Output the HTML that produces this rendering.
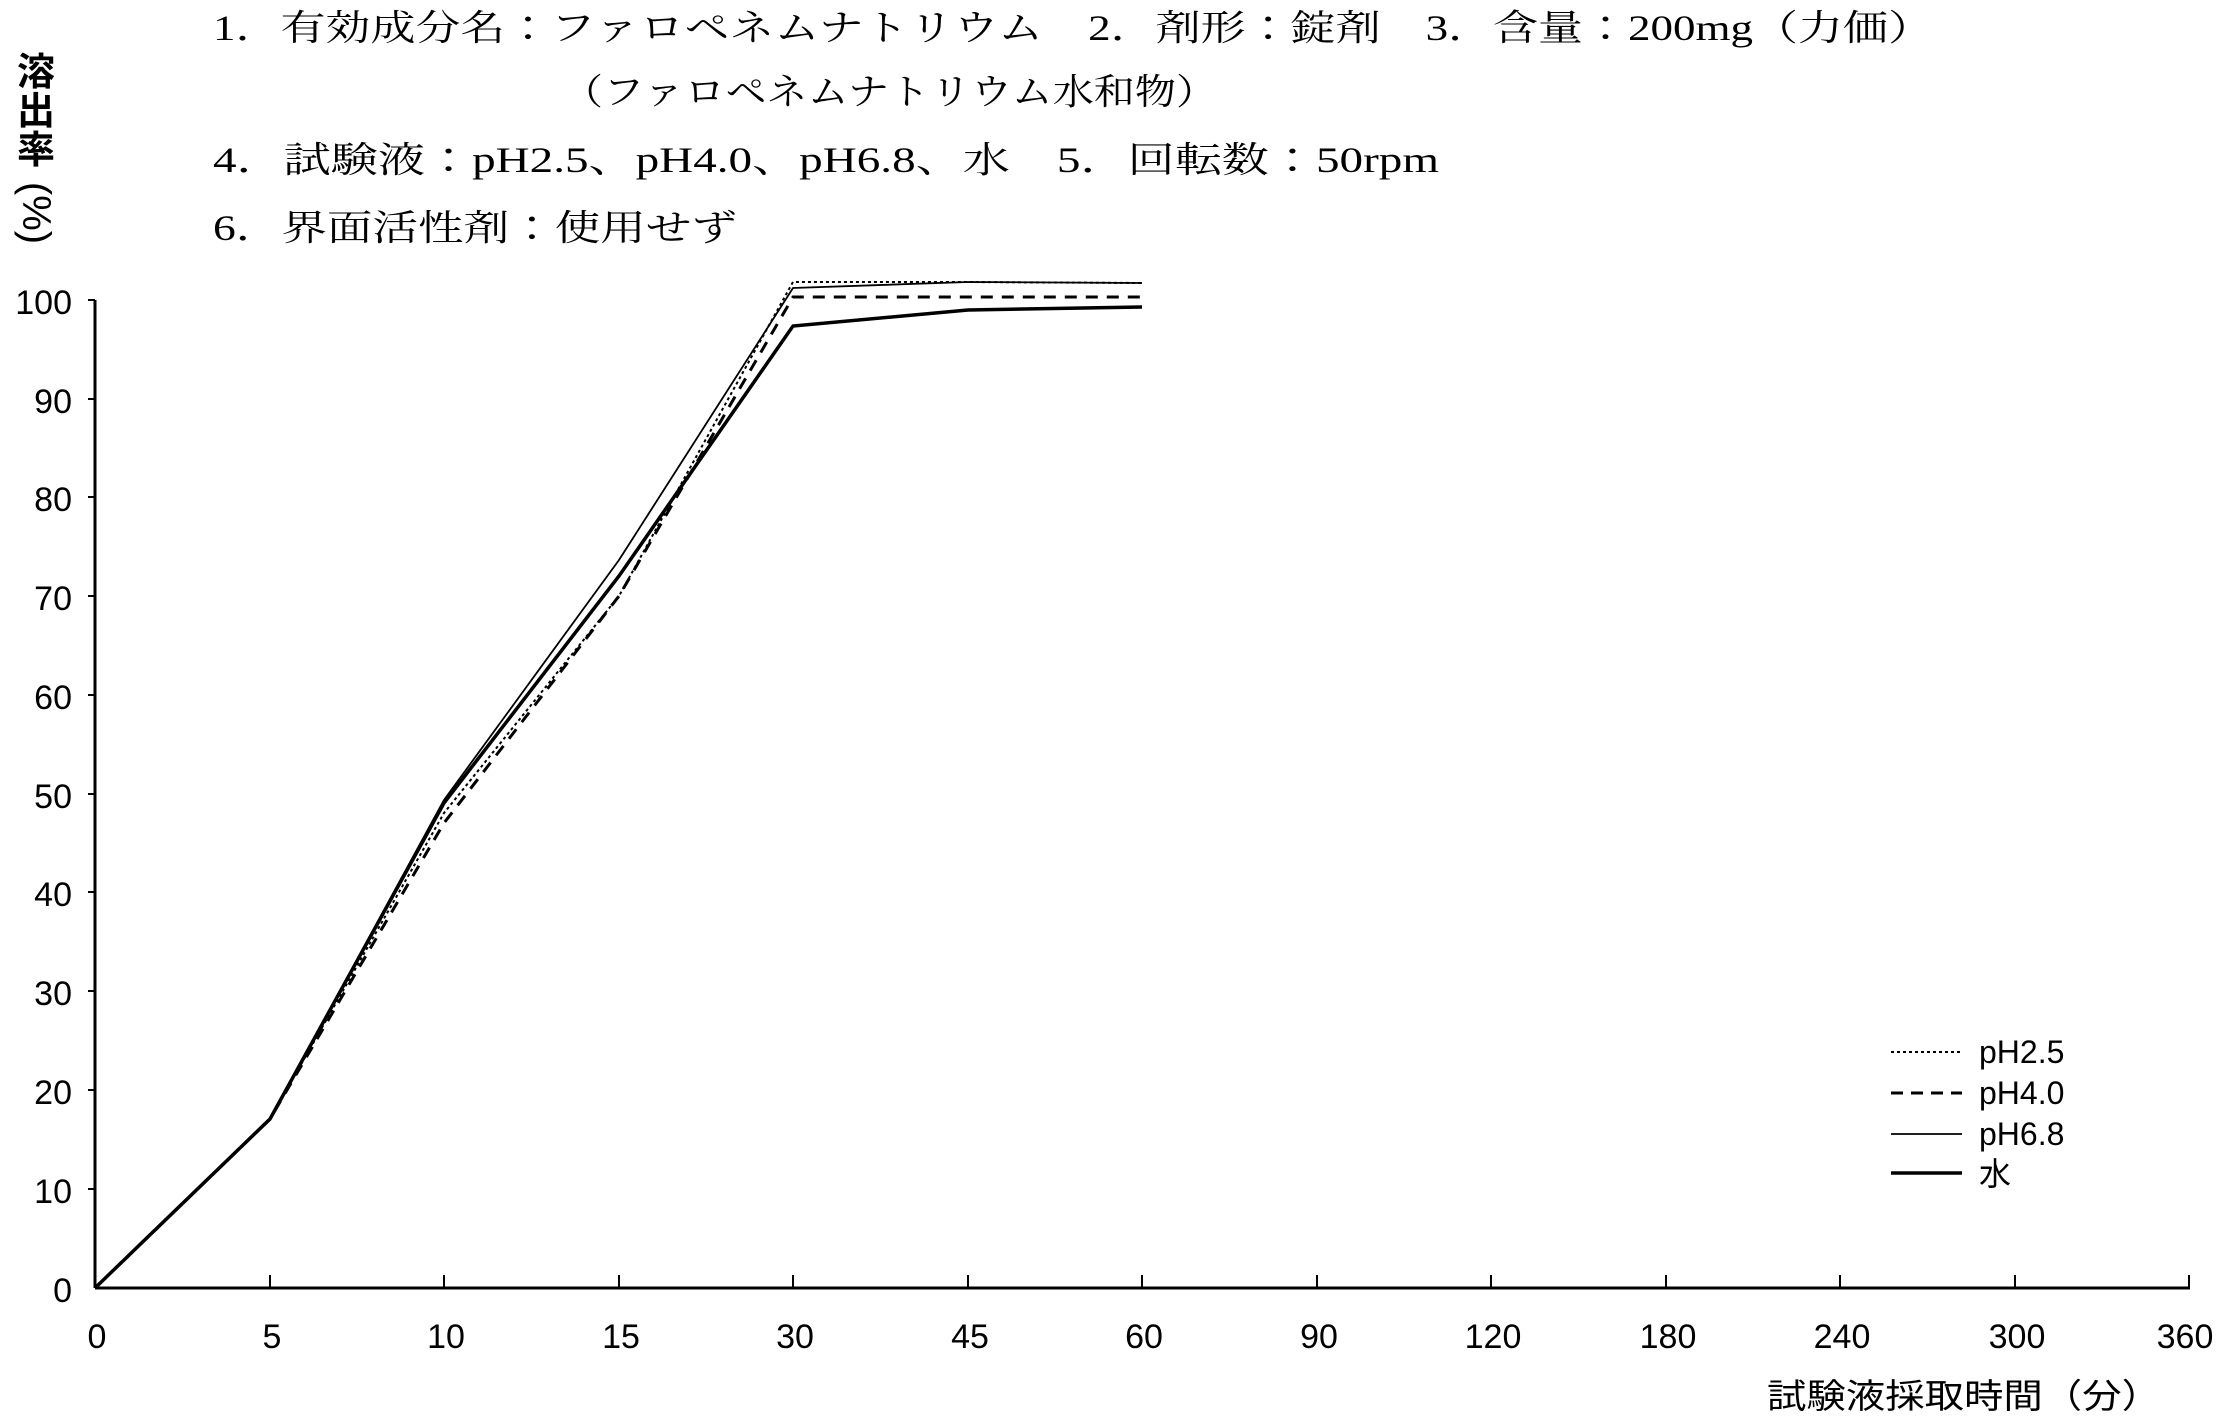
<!DOCTYPE html>
<html><head><meta charset="utf-8"><style>
html,body{margin:0;padding:0;background:#fff;}
svg{display:block;}
.t{font-family:"Liberation Serif","Noto Serif CJK JP",serif;font-size:36px;fill:#000;}
.n{font-family:"Liberation Sans","Noto Sans CJK JP",sans-serif;font-size:34px;fill:#000;}
</style></head><body>
<svg width="2225" height="1417" viewBox="0 0 2225 1417" xmlns="http://www.w3.org/2000/svg">
<text class="t" x="213" y="40" textLength="1720" lengthAdjust="spacingAndGlyphs">1．有効成分名：ファロペネムナトリウム　2．剤形：錠剤　3．含量：200mg（力価）</text>
<text class="t" x="562" y="104" textLength="655" lengthAdjust="spacingAndGlyphs">（ファロペネムナトリウム水和物）</text>
<text class="t" x="213" y="172" textLength="1226" lengthAdjust="spacingAndGlyphs">4．試験液：pH2.5、pH4.0、pH6.8、水　5．回転数：50rpm</text>
<text class="t" x="213" y="240" textLength="524" lengthAdjust="spacingAndGlyphs">6．界面活性剤：使用せず</text>
<g style="font-family:'Noto Sans CJK JP',sans-serif;font-size:38px;font-weight:bold" text-anchor="middle" fill="#000">
<text x="36" y="85">溶</text><text x="36" y="124">出</text><text x="36" y="163">率</text>
<text x="36" y="226" transform="rotate(90 36 213)" style="font-family:'Liberation Sans',sans-serif;font-size:40px;font-weight:normal">(%)</text>
</g>
<g stroke="#000" stroke-width="3" fill="none">
<line x1="95" y1="300" x2="95" y2="1288"/>
<line x1="95" y1="1288" x2="2190" y2="1288"/>
</g>
<g stroke="#000" stroke-width="2">
<line x1="88" y1="300" x2="95" y2="300"/><line x1="88" y1="399" x2="95" y2="399"/><line x1="88" y1="497" x2="95" y2="497"/><line x1="88" y1="596" x2="95" y2="596"/><line x1="88" y1="695" x2="95" y2="695"/><line x1="88" y1="794" x2="95" y2="794"/><line x1="88" y1="892" x2="95" y2="892"/><line x1="88" y1="991" x2="95" y2="991"/><line x1="88" y1="1090" x2="95" y2="1090"/><line x1="88" y1="1189" x2="95" y2="1189"/>
<line x1="270" y1="1275" x2="270" y2="1288"/><line x1="444" y1="1275" x2="444" y2="1288"/><line x1="619" y1="1275" x2="619" y2="1288"/><line x1="793" y1="1275" x2="793" y2="1288"/><line x1="968" y1="1275" x2="968" y2="1288"/><line x1="1142" y1="1275" x2="1142" y2="1288"/><line x1="1317" y1="1275" x2="1317" y2="1288"/><line x1="1491" y1="1275" x2="1491" y2="1288"/><line x1="1666" y1="1275" x2="1666" y2="1288"/><line x1="1840" y1="1275" x2="1840" y2="1288"/><line x1="2015" y1="1275" x2="2015" y2="1288"/><line x1="2189" y1="1275" x2="2189" y2="1288"/>
</g>
<g class="n" text-anchor="end">
<text x="72" y="314">100</text><text x="72" y="413">90</text><text x="72" y="511">80</text><text x="72" y="610">70</text><text x="72" y="709">60</text><text x="72" y="808">50</text><text x="72" y="906">40</text><text x="72" y="1005">30</text><text x="72" y="1104">20</text><text x="72" y="1203">10</text><text x="72" y="1302">0</text>
</g>
<g class="n" text-anchor="middle">
<text x="97" y="1348">0</text><text x="272" y="1348">5</text><text x="446" y="1348">10</text><text x="621" y="1348">15</text><text x="795" y="1348">30</text><text x="970" y="1348">45</text><text x="1144" y="1348">60</text><text x="1319" y="1348">90</text><text x="1493" y="1348">120</text><text x="1668" y="1348">180</text><text x="1842" y="1348">240</text><text x="2017" y="1348">300</text><text x="2185" y="1348">360</text>
</g>
<text x="1767" y="1408" style="font-family:'Noto Sans CJK JP',sans-serif;font-size:34px" textLength="394" lengthAdjust="spacingAndGlyphs">試験液採取時間（分）</text>
<g fill="none" stroke="#000" stroke-linejoin="miter">
<polyline points="95,1288 270,1119 444,813 619,596 793,282 968,282 1142,283" stroke-width="2" stroke-dasharray="3,3"/>
<polyline points="95,1288 270,1119 444,823 619,596 793,297 968,297 1142,297" stroke-width="3" stroke-dasharray="12,9"/>
<polyline points="95,1288 270,1119 444,800 619,560 793,288 968,282 1142,283" stroke-width="1.8"/>
<polyline points="95,1288 270,1119 444,803 619,576 793,326 968,310 1142,307" stroke-width="3.5"/>
</g>
<g stroke="#000">
<line x1="1891" y1="1052" x2="1962" y2="1052" stroke-width="2" stroke-dasharray="3,3"/>
<line x1="1891" y1="1093" x2="1962" y2="1093" stroke-width="3" stroke-dasharray="12,8"/>
<line x1="1891" y1="1134" x2="1962" y2="1134" stroke-width="1.8"/>
<line x1="1891" y1="1173" x2="1962" y2="1173" stroke-width="3.5"/>
</g>
<g class="n" style="font-size:32px">
<text x="1979" y="1063">pH2.5</text><text x="1979" y="1104">pH4.0</text><text x="1979" y="1145">pH6.8</text>
<text x="1979" y="1185" style="font-family:'Noto Sans CJK JP',sans-serif">水</text>
</g>
</svg>
</body></html>
